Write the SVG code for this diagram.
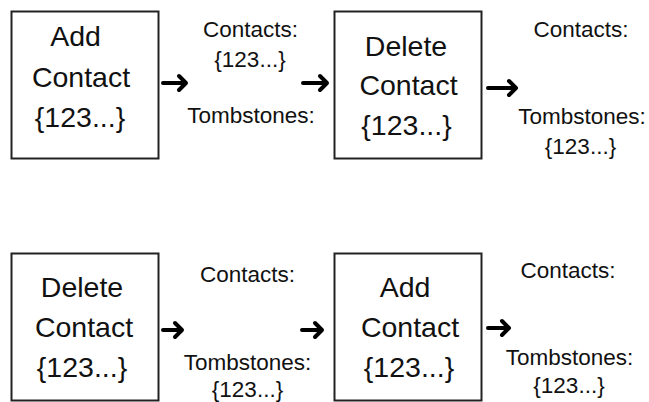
<svg xmlns="http://www.w3.org/2000/svg" width="649" height="402" viewBox="0 0 649 402">
<style>
.box{fill:#fff;stroke:#222;stroke-width:2}
.bt{font-family:"Liberation Sans",Arial,sans-serif;font-size:28.5px;fill:#111;text-anchor:middle}
.lt{font-family:"Liberation Sans",Arial,sans-serif;font-size:22.5px;fill:#111;text-anchor:middle}
.arr{fill:none;stroke:#000;stroke-width:4;stroke-linecap:round;stroke-linejoin:round}
</style>
<rect width="649" height="402" fill="#fff"/>
<g id="node-add1">
<rect class="box" x="11.5" y="11.5" width="147" height="147"/>
<text class="bt" x="75.5" y="46">Add</text>
<text class="bt" x="81" y="87">Contact</text>
<text class="bt" x="80" y="127">{123...}</text>
</g>
<g id="state1">
<text class="lt" x="250.5" y="37">Contacts:</text>
<text class="lt" x="250" y="67">{123...}</text>
<text class="lt" x="251" y="123">Tombstones:</text>
</g>
<g id="node-delete1">
<rect class="box" x="334.5" y="11.5" width="147" height="147"/>
<text class="bt" x="406" y="56">Delete</text>
<text class="bt" x="408.5" y="95">Contact</text>
<text class="bt" x="406.5" y="135">{123...}</text>
</g>
<g id="state2">
<text class="lt" x="581" y="37">Contacts:</text>
<text class="lt" x="582" y="124">Tombstones:</text>
<text class="lt" x="580.5" y="154">{123...}</text>
</g>
<g id="node-delete2">
<rect class="box" x="11.5" y="253.5" width="147" height="147"/>
<text class="bt" x="82" y="297">Delete</text>
<text class="bt" x="84" y="337">Contact</text>
<text class="bt" x="82" y="377">{123...}</text>
</g>
<g id="state3">
<text class="lt" x="247.5" y="282">Contacts:</text>
<text class="lt" x="247.5" y="370">Tombstones:</text>
<text class="lt" x="247.5" y="397">{123...}</text>
</g>
<g id="node-add2">
<rect class="box" x="334.5" y="253.5" width="147" height="147"/>
<text class="bt" x="405" y="297">Add</text>
<text class="bt" x="410" y="337">Contact</text>
<text class="bt" x="409" y="377">{123...}</text>
</g>
<g id="state4">
<text class="lt" x="568" y="278">Contacts:</text>
<text class="lt" x="569.5" y="365">Tombstones:</text>
<text class="lt" x="569" y="393">{123...}</text>
</g>
<g id="connectors">
<path class="arr" d="M163 83H185M179 76L186 83L179 90"/>
<path class="arr" d="M303 83H326M320 76L327 83L320 90"/>
<path class="arr" d="M488 88H515M509 81L516 88L509 95"/>
<path class="arr" d="M163 330H181M175 323L182 330L175 337"/>
<path class="arr" d="M302 330H321M315 323L322 330L315 337"/>
<path class="arr" d="M488 328H508M502 321L509 328L502 335"/>
</g>
</svg>
